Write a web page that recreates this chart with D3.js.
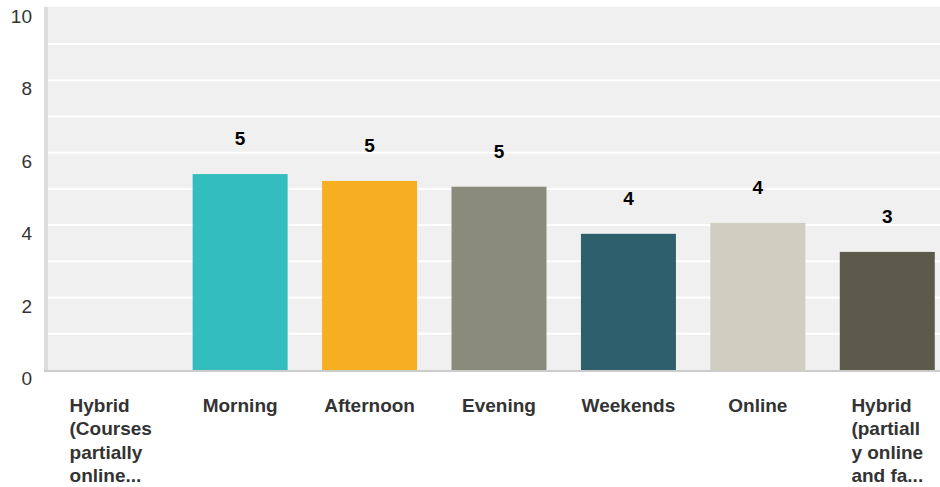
<!DOCTYPE html>
<html><head><meta charset="utf-8">
<script src="https://cdn.jsdelivr.net/npm/d3@7"></script>
<style>body{margin:0;background:#fff}svg{display:block;font-family:"Liberation Sans",Arial,sans-serif}</style>
</head><body><svg id="c" width="940" height="487"></svg>
<script>
const categories = ["Hybrid (Courses partially online...", "Morning", "Afternoon", "Evening", "Weekends", "Online", "Hybrid (partially online and fa..."];
const categoryLines = [["Hybrid","(Courses","partially","online..."],["Morning"],["Afternoon"],["Evening"],["Weekends"],["Online"],["Hybrid","(partiall","y online","and fa..."]];
const values = [0, 5.41, 5.22, 5.06, 3.76, 4.06, 3.26];
const valueLabels = ["", "5", "5", "5", "4", "4", "3"];
const colors = ["#33bdbf", "#33bdbf", "#f6af20", "#8a8b7a", "#2e5f6d", "#d0cec0", "#5c5a4b"];
const yTicks = [0, 2, 4, 6, 8, 10];
const gridValues = [1,2,3,4,5,6,7,8,9];

const svg = d3.select("#c");
const x = d3.scaleBand().domain(categories).range([46, 952]).paddingInner(0.266).paddingOuter(0.133);
const y = d3.scaleLinear().domain([0, 10]).range([370, 7.8]);

svg.append("rect").attr("x", 48).attr("y", y(10)-1).attr("width", 940-48).attr("height", y(0)-y(10)+1).attr("fill", "#f0f0f0");
svg.append("g").selectAll("line").data(gridValues).join("line")
  .attr("x1", 48).attr("x2", 940).attr("y1", d => y(d)).attr("y2", d => y(d))
  .attr("stroke", "#fff").attr("stroke-width", 2);
svg.append("rect").attr("x", 44).attr("y", y(10)-1).attr("width", 4).attr("height", y(0)-y(10)+2).attr("fill", "#dddddd");

svg.append("g").selectAll("rect").data(values).join("rect")
  .attr("x", (d,i) => x(categories[i])).attr("width", x.bandwidth())
  .attr("y", d => y(d)).attr("height", d => y(0)-y(d))
  .attr("fill", (d,i) => colors[i]);

svg.append("rect").attr("x", 44).attr("y", y(0)).attr("width", 940-44).attr("height", 2).attr("fill", "#cccccc");

svg.append("g").selectAll("text").data(values).join("text")
  .attr("x", (d,i) => x(categories[i]) + x.bandwidth()/2)
  .attr("y", d => y(d) - 29)
  .attr("text-anchor", "middle").attr("font-size", 19).attr("font-weight", "bold").attr("fill", "#000")
  .text((d,i) => valueLabels[i]);

svg.append("g").selectAll("text").data(yTicks).join("text")
  .attr("x", 32).attr("y", d => y(d) + 15)
  .attr("text-anchor", "end").attr("font-size", 19).attr("fill", "#333")
  .text(d => d);

const cg = svg.append("g");
categories.forEach((c, i) => {
  const t = cg.append("text").attr("font-size", 19).attr("font-weight", "bold").attr("fill", "#333");
  categoryLines[i].forEach((l, j) => {
    t.append("tspan").attr("dy", 0).attr("y", 412 + j*23.3).text(l);
  });
  let maxw = 0;
  t.selectAll("tspan").each(function(){ maxw = Math.max(maxw, this.getComputedTextLength()); });
  const cx = x(c) + x.bandwidth()/2;
  t.selectAll("tspan").attr("x", cx - maxw/2);
});
</script></body></html>
